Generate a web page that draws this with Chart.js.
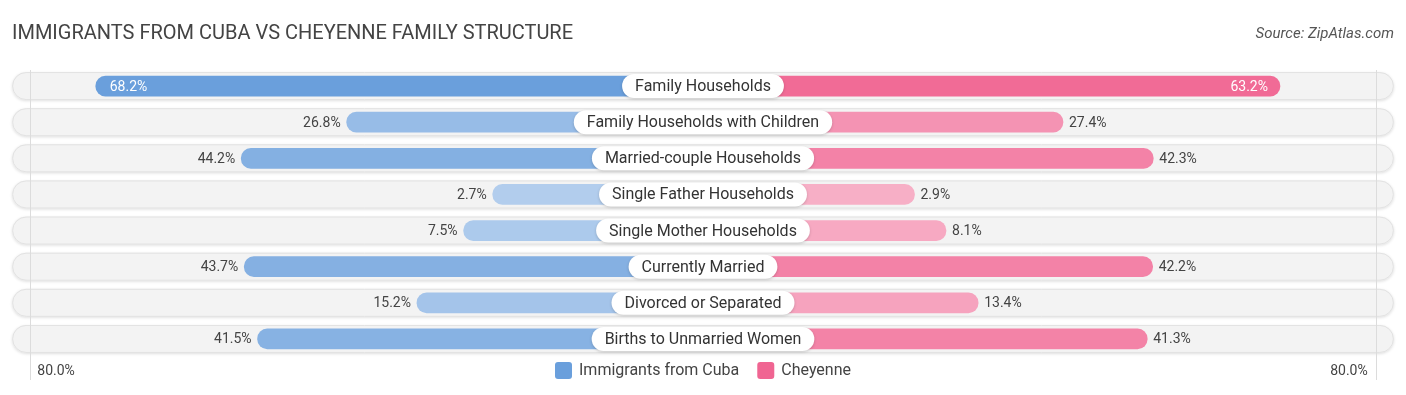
<!DOCTYPE html>
<html>
<head>
<meta charset="utf-8">
<script src="https://cdn.jsdelivr.net/npm/chart.js@4.4.1/dist/chart.umd.min.js"></script>
<style>
  html, body { margin: 0; padding: 0; background: #fff; }
  #wrap { width: 1406px; height: 395px; position: relative; }
</style>
</head>
<body>
<div id="wrap"><canvas id="fam-canv"></canvas></div>
<script>
const categories = [
    'Family Households',
    'Family Households with Children',
    'Married-couple Households',
    'Single Father Households',
    'Single Mother Households',
    'Currently Married',
    'Divorced or Separated',
    'Births to Unmarried Women',
];
const cubaValues = [68.2, 26.8, 44.2, 2.7, 7.5, 43.7, 15.2, 41.5];
const cheyenneValues = [63.2, 27.4, 42.3, 2.9, 8.1, 42.2, 13.4, 41.3];
const seriesNames = ['Immigrants from Cuba', 'Cheyenne'];
const edgeTick = '80.0%';

const FONT = "Roboto, 'Noto Sans', sans-serif";
const blue = [106, 159, 220];
const pink = [240, 101, 146];
const OFFSET = 32;      // room behind the centre label, in axis units
const ROW_HALF = 114;   // half width of the grey row track
const GRID = 111;       // where the 80% edge line sits
const INSIDE_MIN = 60;  // values above this get their label inside the bar

const maxVal = Math.max(...cubaValues, ...cheyenneValues);
const shade = (rgb, v) => {
    const a = 0.5 + 0.5 * v / maxVal;
    const c = rgb.map(k => Math.round(255 - (255 - k) * a));
    return 'rgb(' + c.join(',') + ')';
};

function roundRect(ctx, x, y, w, h, r) {
    r = Math.min(r, h / 2, w / 2);
    ctx.beginPath();
    ctx.moveTo(x + r, y);
    ctx.arcTo(x + w, y, x + w, y + h, r);
    ctx.arcTo(x + w, y + h, x, y + h, r);
    ctx.arcTo(x, y + h, x, y, r);
    ctx.arcTo(x, y, x + w, y, r);
    ctx.closePath();
}

const decor = {
    id: 'decor',
    beforeDatasetsDraw(chart) {
        const ctx = chart.ctx;
        const xs = chart.scales.x, ys = chart.scales.y;
        const x0 = xs.getPixelForValue(-ROW_HALF), x1 = xs.getPixelForValue(ROW_HALF);
        categories.forEach((c, i) => {
            const y = ys.getPixelForValue(i);
            ctx.save();
            ctx.shadowColor = 'rgba(0,0,0,0.13)';
            ctx.shadowBlur = 3;
            ctx.shadowOffsetY = 1;
            roundRect(ctx, x0, y - 14, x1 - x0, 28, 14);
            ctx.fillStyle = '#f3f3f3';
            ctx.fill();
            ctx.restore();
            ctx.save();
            roundRect(ctx, x0 + 0.5, y - 13.5, x1 - x0 - 1, 27, 13.5);
            ctx.strokeStyle = '#e2e2e2';
            ctx.lineWidth = 1;
            ctx.stroke();
            ctx.restore();
        });
        // edge lines
        ctx.save();
        ctx.strokeStyle = '#dcdcdc';
        ctx.lineWidth = 1;
        [-GRID, GRID].forEach(v => {
            const x = Math.round(xs.getPixelForValue(v)) + 0.5;
            ctx.beginPath();
            ctx.moveTo(x, 70);
            ctx.lineTo(x, 380);
            ctx.stroke();
        });
        ctx.restore();
    },
    afterDatasetsDraw(chart) {
        const ctx = chart.ctx;
        const xs = chart.scales.x, ys = chart.scales.y;
        const cx = xs.getPixelForValue(0);
        ctx.save();
        ctx.textBaseline = 'middle';
        categories.forEach((c, i) => {
            const y = ys.getPixelForValue(i);
            // value labels
            ctx.font = '14px ' + FONT;
            const lv = cubaValues[i], rv = cheyenneValues[i];
            const lx = xs.getPixelForValue(-(OFFSET + lv));
            const rx = xs.getPixelForValue(OFFSET + rv);
            if (lv > INSIDE_MIN) {
                ctx.fillStyle = '#fff';
                ctx.textAlign = 'left';
                ctx.fillText(lv.toFixed(1) + '%', lx + 14, y + 1);
            } else {
                ctx.fillStyle = '#444';
                ctx.textAlign = 'right';
                ctx.fillText(lv.toFixed(1) + '%', lx - 6, y + 1);
            }
            if (rv > INSIDE_MIN) {
                ctx.fillStyle = '#fff';
                ctx.textAlign = 'right';
                ctx.fillText(rv.toFixed(1) + '%', rx - 12, y + 1);
            } else {
                ctx.fillStyle = '#444';
                ctx.textAlign = 'left';
                ctx.fillText(rv.toFixed(1) + '%', rx + 6, y + 1);
            }
            // centre pill
            ctx.font = '16px ' + FONT;
            const w = ctx.measureText(c).width + 26;
            ctx.save();
            ctx.shadowColor = 'rgba(0,0,0,0.18)';
            ctx.shadowBlur = 3;
            ctx.shadowOffsetY = 1;
            roundRect(ctx, cx - w / 2, y - 12, w, 24, 12);
            ctx.fillStyle = '#fff';
            ctx.fill();
            ctx.restore();
            ctx.fillStyle = '#333';
            ctx.textAlign = 'center';
            ctx.fillText(c, cx, y + 1);
        });
        ctx.restore();
    },
    afterDraw(chart) {
        const ctx = chart.ctx;
        const xs = chart.scales.x;
        ctx.save();
        ctx.textBaseline = 'middle';
        // title + source
        ctx.font = '20px ' + FONT;
        ctx.fillStyle = '#444';
        ctx.textAlign = 'left';
        ctx.fillText('IMMIGRANTS FROM CUBA VS CHEYENNE FAMILY STRUCTURE', 12, 34);
        ctx.font = 'italic 15px ' + FONT;
        ctx.fillStyle = '#555';
        ctx.textAlign = 'right';
        ctx.fillText('Source: ZipAtlas.com', 1394, 34);
        // edge ticks
        ctx.font = '14px ' + FONT;
        ctx.fillStyle = '#444';
        ctx.textAlign = 'left';
        ctx.fillText(edgeTick, xs.getPixelForValue(-GRID) + 7, 371);
        ctx.textAlign = 'right';
        ctx.fillText(edgeTick, xs.getPixelForValue(GRID) - 8, 371);
        // legend
        ctx.font = '16px ' + FONT;
        const cols = [shade(blue, maxVal), shade(pink, maxVal)];
        const widths = seriesNames.map(n => 17 + 7 + ctx.measureText(n).width);
        const gap = 18;
        let x = xs.getPixelForValue(0) - (widths[0] + widths[1] + gap) / 2;
        seriesNames.forEach((n, k) => {
            roundRect(ctx, x, 362, 17, 17, 3);
            ctx.fillStyle = cols[k];
            ctx.fill();
            ctx.fillStyle = '#444';
            ctx.textAlign = 'left';
            ctx.fillText(n, x + 24, 371);
            x += widths[k] + gap;
        });
        ctx.restore();
    }
};

const data = {
    labels: categories,
    datasets: [{
        label: seriesNames[0],
        data: cubaValues.map(v => [-(OFFSET + v), 0]),
        backgroundColor: cubaValues.map(v => shade(blue, v)),
        grouped: false,
        barThickness: 20,
        borderRadius: 10,
        borderSkipped: false,
    }, {
        label: seriesNames[1],
        data: cheyenneValues.map(v => [0, OFFSET + v]),
        backgroundColor: cheyenneValues.map(v => shade(pink, v)),
        grouped: false,
        barThickness: 20,
        borderRadius: 10,
        borderSkipped: false,
    }]
};

const config = {
    type: 'bar',
    data,
    options: {
        indexAxis: 'y',
        animation: false,
        responsive: true,
        maintainAspectRatio: false,
        layout: { padding: { top: 68, bottom: 38, left: 0, right: 0 } },
        scales: {
            x: { display: false, min: -116, max: 116 },
            y: { display: false }
        },
        plugins: {
            legend: { display: false },
            tooltip: { enabled: false }
        }
    },
    plugins: [decor]
};

var myChart = new Chart(document.getElementById('fam-canv'), config);
</script>
</body>
</html>
